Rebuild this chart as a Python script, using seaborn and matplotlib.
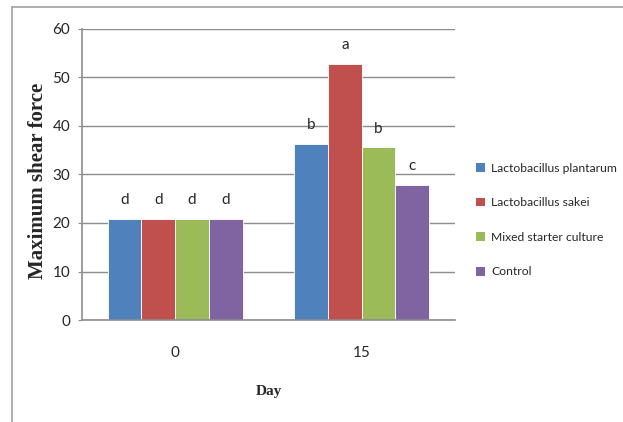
import pandas as pd
import matplotlib
matplotlib.use("Agg")
import matplotlib.pyplot as plt
from matplotlib.lines import Line2D
from matplotlib.patches import Patch
import seaborn as sns

# data
days = ["0", "15"]
treatments = ["Lactobacillus plantarum", "Lactobacillus sakei",
              "Mixed starter culture", "Control"]
day0_values = [20.8, 20.8, 20.8, 20.8]
day15_values = [36.3, 52.8, 35.6, 27.9]
day0_letters = ["d", "d", "d", "d"]
day15_letters = ["b", "a", "b", "c"]
colors = ["#4F81BD", "#C0504D", "#9BBB59", "#8064A2"]

df = pd.DataFrame({
    "Day": [days[0]] * 4 + [days[1]] * 4,
    "Treatment": treatments * 2,
    "Force": day0_values + day15_values,
    "Letter": day0_letters + day15_letters,
})

sns.set_style("white")
plt.rcParams["font.family"] = ["Lato", "DejaVu Sans"]
serif = ["Liberation Serif", "DejaVu Serif"]
grey = "#8C8C8C"

fig = plt.figure(figsize=(6.23, 4.22), dpi=100)
ax = fig.add_axes([0.1316, 0.2417, 0.5987, 0.6896])

sns.barplot(data=df, x="Day", y="Force", hue="Treatment", order=days,
            hue_order=treatments, palette=colors, width=0.724,
            saturation=1, edgecolor="white", linewidth=0.6, ax=ax,
            legend=False)

# significance letters above bars
for cont, tr in zip(ax.containers, treatments):
    sub = df[df["Treatment"] == tr].set_index("Day").loc[days]
    for bar, letter in zip(cont, sub["Letter"]):
        ax.annotate(letter, (bar.get_x() + bar.get_width() / 2, bar.get_height()),
                    xytext=(0, 13.5), textcoords="offset points",
                    ha="center", va="center", fontsize=11)

ax.set_ylim(0, 60)
ax.set_xlim(-0.5, 1.5)
ax.set_yticks(range(0, 61, 10))
ax.yaxis.grid(True, color=grey, linewidth=1)
ax.set_axisbelow(True)
for s in ["top", "right"]:
    ax.spines[s].set_visible(False)
for s in ["left", "bottom"]:
    ax.spines[s].set_color(grey)
    ax.spines[s].set_linewidth(1.2)

# category ticks at boundaries like Excel
ax.set_xticks([-0.5, 0.5, 1.5], minor=False)
ax.set_xticklabels([])
ax.set_xticks([0, 1], minor=True)
ax.set_xticklabels(days, minor=True)
ax.tick_params(axis="x", which="major", length=3.6, color=grey, direction="out")
ax.tick_params(axis="x", which="minor", length=0, pad=19, labelsize=11)
ax.tick_params(axis="y", length=3, color=grey, direction="out",
               left=True, labelsize=11, pad=5.5)

ax.set_xlabel("Day", fontsize=11, fontweight="bold", family=serif)
ax.xaxis.set_label_coords(0.5, -0.222)
ax.set_ylabel("Maximum shear force", fontsize=15, fontweight="bold", family=serif)
ax.yaxis.set_label_coords(-0.09, 0.478)

handles = [Patch(facecolor=c, edgecolor="none") for c in colors]
fig.legend(handles, treatments, loc="upper left",
           bbox_to_anchor=(0.756, 0.626), frameon=False, fontsize=8.7,
           handlelength=0.75, handleheight=0.75, handletextpad=0.5,
           labelspacing=1.95, borderaxespad=0)

# outer chart frame
fig.add_artist(Line2D([0.0198, 0.0198], [0, 0.9827], color="#A0A0A0", linewidth=1.2))
fig.add_artist(Line2D([0.0198, 1.0], [0.9827, 0.9827], color="#A0A0A0", linewidth=1.2))

fig.savefig("out.png", dpi=100)
